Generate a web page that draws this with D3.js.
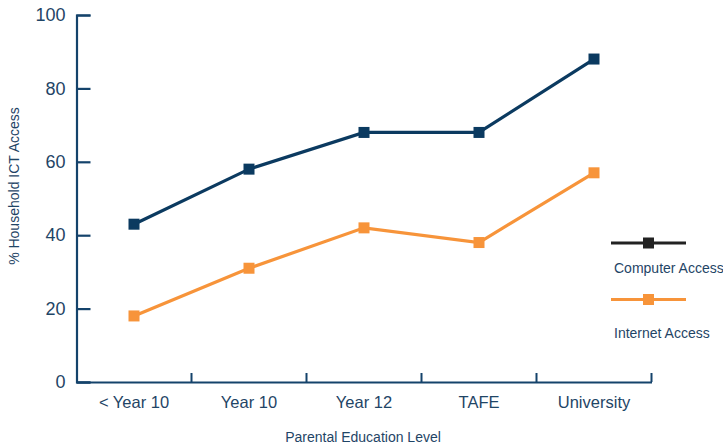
<!DOCTYPE html>
<html><head><meta charset="utf-8">
<script src="https://cdn.jsdelivr.net/npm/d3@7"></script>
<style>body{margin:0;background:#fff}svg{display:block}text{font-family:"Liberation Sans",Arial,sans-serif}</style>
</head><body><svg id="c" width="723" height="445"></svg>
<script>
const categories = ["< Year 10","Year 10","Year 12","TAFE","University"];
const computerAccess = [43,58,68,68,88];
const internetAccess = [18,31,42,38,57];
const yTicks = [0,20,40,60,80,100];
const seriesNames = ["Computer Access","Internet Access"];

const svg = d3.select("#c");
const axisColor = "#14436b", textColor = "#1f4566";
const x = d3.scaleBand().domain(categories).range([76.5,651.5]);
const y = d3.scaleLinear().domain([0,100]).range([382,15]);

// y axis
const ya = svg.append("g").attr("transform","translate(76.5,0)")
  .call(d3.axisRight(y).tickValues(yTicks).tickSize(14).tickFormat(d3.format("d")));
ya.select(".domain").attr("stroke",axisColor).attr("stroke-width",2.2);
ya.selectAll(".tick line").attr("stroke",axisColor).attr("stroke-width",2.2);
ya.selectAll(".tick text").attr("x",-11).attr("text-anchor","end").attr("fill",textColor)
  .attr("font-size",18);

// x axis
const xa = svg.append("g").attr("transform","translate(0,382)")
  .call(d3.axisTop(x).tickSize(0).tickSizeOuter(0));
xa.select(".domain").attr("stroke",axisColor).attr("stroke-width",2.2);
xa.selectAll(".tick text").attr("y",26).attr("dy",0).attr("fill",textColor).attr("font-size",16.5);
xa.selectAll(".tick line").remove();
// band boundary ticks
const bounds = categories.slice(1).map(c=>x(c)).concat([x.range()[1]]);
svg.append("g").selectAll("line").data(bounds).join("line")
  .attr("x1",d=>d).attr("x2",d=>d).attr("y1",382).attr("y2",373)
  .attr("stroke",axisColor).attr("stroke-width",2);

// titles
svg.append("text").attr("transform","translate(19,186) rotate(-90)").attr("text-anchor","middle")
  .attr("fill",textColor).attr("font-size",14).text("% Household ICT Access");
svg.append("text").attr("x",363).attr("y",442).attr("text-anchor","middle")
  .attr("fill",textColor).attr("font-size",14).text("Parental Education Level");

const cx = c => x(c) + x.bandwidth()/2;
const line = d3.line().x((d,i)=>cx(categories[i])).y(d=>y(d));
const series = [
  {name:seriesNames[0], values:computerAccess, color:"#0b3a60", legendColor:"#222222"},
  {name:seriesNames[1], values:internetAccess, color:"#f7943a", legendColor:"#f7943a"}
];
series.forEach(s=>{
  svg.append("path").attr("d",line(s.values)).attr("fill","none").attr("stroke",s.color).attr("stroke-width",3.2);
  svg.append("g").selectAll("rect").data(s.values).join("rect")
    .attr("x",(d,i)=>cx(categories[i])-5.5).attr("y",d=>y(d)-5.5).attr("width",11).attr("height",11)
    .attr("fill",s.color);
});

// legend
const leg = [{ly:243, ty:273},{ly:299.5, ty:338}];
series.forEach((s,i)=>{
  const g = svg.append("g");
  g.append("line").attr("x1",611).attr("x2",686).attr("y1",leg[i].ly).attr("y2",leg[i].ly)
    .attr("stroke",s.legendColor).attr("stroke-width",3.2);
  g.append("rect").attr("x",643).attr("y",leg[i].ly-5.5).attr("width",11).attr("height",11).attr("fill",s.legendColor);
  g.append("text").attr("x",614).attr("y",leg[i].ty).attr("fill",textColor).attr("font-size",14).text(s.name);
});
</script></body></html>
